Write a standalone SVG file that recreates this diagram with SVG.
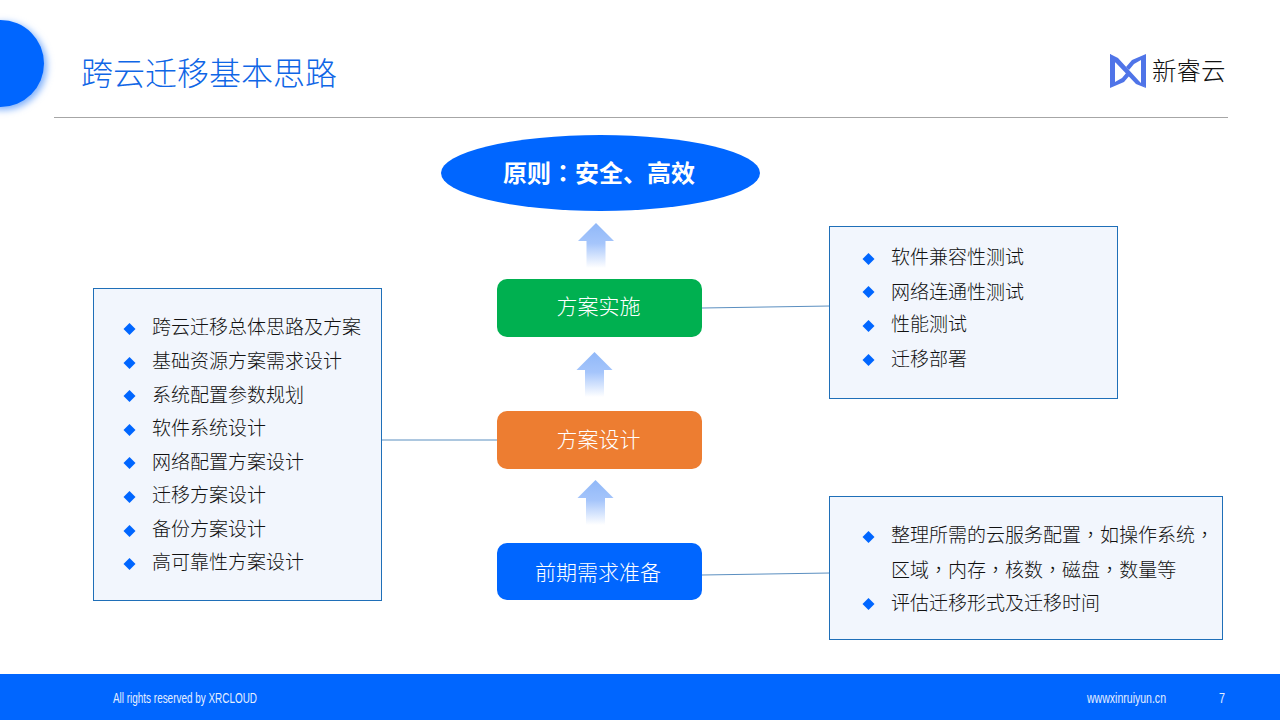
<svg xmlns="http://www.w3.org/2000/svg" width="1280" height="720" viewBox="0 0 1280 720">
<style>
text{font-family:"Noto Sans CJK SC","Liberation Sans",sans-serif}
.li{font-size:19px;fill:#111;font-weight:300}
.p{font-family:"Noto Sans CJK TC","Liberation Sans",sans-serif}
.box{fill:#f2f6fd;stroke:#1f6fb8;stroke-width:1}
.nd{font-size:21px;fill:#fff;text-anchor:middle;font-weight:300}
.ft{font-family:"Liberation Sans",sans-serif;font-size:14.500px;fill:#e4eeff}
.conn{stroke:#5b8fc0;stroke-width:1;fill:none}
.lg{fill:#4f74e8}
</style>
<defs>
<linearGradient id="ag" x1="0" y1="0" x2="0" y2="1"><stop offset="0" stop-color="#90b8f8"/><stop offset="0.45" stop-color="#a5c5fb"/><stop offset="1" stop-color="#fff"/></linearGradient>
<filter id="sh" x="-30%" y="-30%" width="160%" height="160%"><feGaussianBlur stdDeviation="3.500"/></filter>
<path id="arr" d="M0 0L18 18H9.500V45H-9.500V18H-18Z" fill="url(#ag)"/>
<path id="dm" d="M0-6L6 0L0 6L-6 0Z" fill="#0066ff"/>
</defs>
<rect width="1280" height="720" fill="#fff"/>
<g id="header">
<circle cx="3" cy="66" r="44" fill="#7fb0fb" filter="url(#sh)"/>
<circle cx="0.500" cy="63.500" r="43.500" fill="#0066ff"/>
<text x="81" y="85" font-size="32" font-weight="300" fill="#0f66e6">跨云迁移基本思路</text>
<line x1="54" y1="117.500" x2="1228" y2="117.500" stroke="#a6a6a6"/>
</g>
<g id="logo">
<path class="lg" d="M1110 54L1118 58L1139 81L1146 88L1136 84L1116 63L1110 58Z"/>
<path class="lg" d="M1110 54L1115 58V82L1122 78L1127 72L1130 75L1124 82L1110 88Z"/>
<path class="lg" d="M1146 88L1141 84V60L1134 64L1129 70L1126 67L1132 60L1146 54Z"/>
<text x="1152" y="80" font-size="24.500" font-weight="300" fill="#111">新睿云</text>
</g>
<g id="connectors">
<line class="conn" x1="702" y1="308" x2="830" y2="306"/>
<line class="conn" x1="382" y1="440" x2="497" y2="440"/>
<line class="conn" x1="702" y1="575" x2="830" y2="573"/>
<use href="#arr" x="596" y="223"/>
<use href="#arr" x="594.500" y="352"/>
<use href="#arr" x="595.500" y="480"/>
</g>
<g id="goal">
<ellipse cx="600.500" cy="173" rx="159.500" ry="38" fill="#0066ff"/>
<text x="599" y="182" font-size="24" font-weight="700" fill="#fff" text-anchor="middle">原则<tspan class="p">：</tspan>安全、高效</text>
</g>
<g id="impl">
<rect x="497" y="279" width="205" height="58" rx="10" fill="#00b050"/>
<text class="nd" x="598.500" y="314">方案实施</text>
</g>
<g id="design">
<rect x="497" y="411" width="205" height="58" rx="10" fill="#ed7d31"/>
<text class="nd" x="598.500" y="447">方案设计</text>
</g>
<g id="prep">
<rect x="497" y="543" width="205" height="57" rx="10" fill="#0066ff"/>
<text class="nd" x="598" y="580">前期需求准备</text>
</g>
<g id="left-box">
<rect class="box" x="93.500" y="288.500" width="288" height="312"/>
<use href="#dm" x="129.500" y="329"/><text class="li" x="152" y="334">跨云迁移总体思路及方案</text>
<use href="#dm" x="129.500" y="363"/><text class="li" x="152" y="368">基础资源方案需求设计</text>
<use href="#dm" x="129.500" y="396"/><text class="li" x="152" y="401.500">系统配置参数规划</text>
<use href="#dm" x="129.500" y="430"/><text class="li" x="152" y="435">软件系统设计</text>
<use href="#dm" x="129.500" y="463"/><text class="li" x="152" y="469">网络配置方案设计</text>
<use href="#dm" x="129.500" y="497"/><text class="li" x="152" y="502">迁移方案设计</text>
<use href="#dm" x="129.500" y="531"/><text class="li" x="152" y="536">备份方案设计</text>
<use href="#dm" x="129.500" y="564"/><text class="li" x="152" y="569">高可靠性方案设计</text>
</g>
<g id="top-box">
<rect class="box" x="829.500" y="226.500" width="288" height="172"/>
<use href="#dm" x="868.500" y="259"/><text class="li" x="891" y="264">软件兼容性测试</text>
<use href="#dm" x="868.500" y="292"/><text class="li" x="891" y="298.500">网络连通性测试</text>
<use href="#dm" x="868.500" y="326"/><text class="li" x="891" y="331">性能测试</text>
<use href="#dm" x="868.500" y="360"/><text class="li" x="891" y="365.500">迁移部署</text>
</g>
<g id="bottom-box">
<rect class="box" x="829.500" y="496.500" width="393" height="143"/>
<use href="#dm" x="868.500" y="537"/><text class="li" x="891" y="542">整理所需的云服务配置<tspan class="p">，</tspan>如操作系统<tspan class="p">，</tspan></text>
<text class="li" x="891" y="576.500">区域<tspan class="p">，</tspan>内存<tspan class="p">，</tspan>核数<tspan class="p">，</tspan>磁盘<tspan class="p">，</tspan>数量等</text>
<use href="#dm" x="868.500" y="604"/><text class="li" x="891" y="609.500">评估迁移形式及迁移时间</text>
</g>
<g id="footer">
<rect y="674" width="1280" height="46" fill="#0066ff"/>
<text class="ft" x="113" y="703" textLength="144" lengthAdjust="spacingAndGlyphs">All rights reserved by XRCLOUD</text>
<text class="ft" x="1087" y="703" textLength="79" lengthAdjust="spacingAndGlyphs">wwwxinruiyun.cn</text>
<text class="ft" x="1219" y="703" textLength="6" lengthAdjust="spacingAndGlyphs">7</text>
</g>
</svg>
